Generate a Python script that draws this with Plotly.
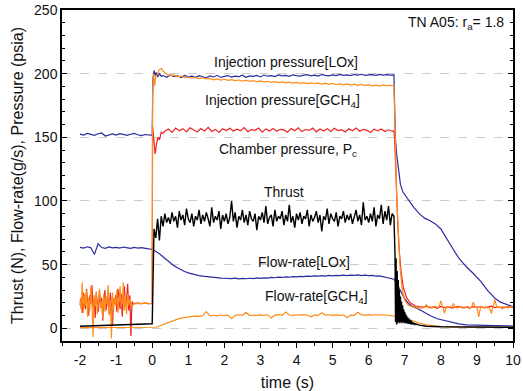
import plotly.graph_objects as go

# ---------------- data ----------------
# LOx injection pressure (psia)
LOX_INJ_PRE = [152.5, 151.8, 153.0, 152.2, 151.5, 152.8, 153.4, 151.0, 152.1, 152.6,
               151.7, 152.9, 152.3, 151.6, 152.4, 153.1, 152.0, 151.4, 152.2, 151.8, 151.5]  # t=-2.0..0.0 step 0.1
LOX_INJ_JUMP_T = [0.02, 0.05, 0.08, 0.11, 0.15, 0.20, 0.25]
LOX_INJ_JUMP_V = [196, 202.5, 198.5, 201, 197.3, 200, 198]
LOX_INJ_RUN = [198.5, 197.2, 199.0, 197.8, 198.3, 196.9, 198.6, 197.5, 198.0, 197.1,
               198.4, 197.6, 196.8, 198.2, 197.4, 198.7, 197.0, 197.9, 198.5, 197.3,
               198.1, 197.6, 198.8, 197.2, 198.3, 197.9, 198.6, 197.4, 198.9, 198.0,
               198.5, 197.7, 199.0, 198.2, 198.7, 197.9, 199.1, 198.4, 198.0, 198.8,
               199.2, 198.3, 198.9, 198.1, 199.3, 198.6, 198.2, 199.0, 198.5, 199.4,
               198.7, 199.1, 198.4, 199.3, 198.8, 199.5, 198.6, 199.0, 199.2, 198.7,
               199.4, 198.9, 199.2, 198.8, 199.1]  # t=0.3..6.7 step 0.1
LOX_INJ_DROP_T = [6.71, 6.72, 6.74, 6.77, 6.82, 6.88, 6.95, 7.05, 7.15, 7.25, 7.4, 7.55, 7.7,
                  7.85, 8.0, 8.15, 8.3, 8.5, 8.7, 8.9, 9.1, 9.3, 9.5, 9.65, 9.8, 10.0]
LOX_INJ_DROP_V = [185, 165, 150, 138, 124, 113, 107, 103, 100, 95, 90, 86.5, 84.5,
                  82, 78, 71.5, 64, 55, 48.5, 43, 37, 29.5, 23.5, 20.5, 18.8, 17]

# GCH4 injection pressure (psia)
GCH4_INJ_PRE = [22, 15, 36, 12, 27, 18, 30, 9, 24, 14, 33, 20, -7, 26, 17, 29, 11, 23, 31, 16,
                21, 8, 27, 13, 25, 19, 34, 10, 22, -8, 28, 15, 24, 18, 30, 12, 26, 33, 17, 21,
                36, 14, 25, 11, 27, 18, 23, 20, 16, 19]  # t=-2.0..-0.53 step 0.03
GCH4_INJ_FLAT = [19.2, 19.6, 19.4, 19.8, 19.3, 19.5]  # t=-0.5..0.0 step 0.1
GCH4_INJ_JUMP_T = [0.01, 0.04, 0.07, 0.10, 0.14, 0.19, 0.25, 0.30, 0.35]
GCH4_INJ_JUMP_V = [184, 200, 190.5, 198, 199, 203, 204, 202, 200.5]
GCH4_INJ_RUN = [199.5, 198.2, 199.0, 197.6, 198.1, 196.8, 197.5, 196.4, 197.0, 196.1,
                196.6, 195.8, 196.3, 195.2, 195.9, 195.0, 195.6, 194.7, 195.3, 194.5,
                195.0, 194.2, 194.8, 193.9, 194.5, 193.7, 194.3, 193.5, 194.0, 193.2,
                193.8, 193.0, 193.6, 192.8, 193.4, 192.6, 193.1, 192.4, 193.0, 192.2,
                192.8, 192.1, 192.6, 191.8, 192.5, 191.6, 192.3, 191.5, 192.0, 191.2,
                191.9, 191.0, 191.7, 190.8, 191.5, 190.6, 191.3, 190.4, 191.0, 190.2,
                191.1, 190.4, 190.9, 190.5]  # t=0.4..6.7 step 0.1
GCH4_INJ_DROP_T = [6.72, 6.74, 6.77, 6.80, 6.83, 6.87, 6.93, 7.0, 7.1, 7.2]
GCH4_INJ_DROP_V = [170, 140, 110, 88, 68, 48, 30, 22, 18, 17]
GCH4_INJ_TAIL = [16.5, 17.2, 16.0, 16.8, 15.6, 17.0, 16.3, 18.5, 16.1, 16.9,
                 15.8, 16.6, 17.3, 16.2, 16.8, 21.5, 16.4, 12.0, 16.7, 16.0,
                 17.1, 16.3, 19.5, 16.5, 15.9, 16.8, 16.2, 17.0, 15.7, 16.6,
                 17.2, 16.1, 16.7, 20.5, 16.3, 16.9, 9.0, 16.4, 17.0, 16.2,
                 16.8, 15.9, 16.5, 11.5, 16.9, 22.5, 16.3, 16.8, 16.0, 17.1,
                 16.4, 16.9, 15.8, 16.6, 17.2, 16.3]  # t=7.25..10.0 step 0.05

# Chamber pressure (psia)
PC_PRE = [18, 24, 12, 28, 20, 15, 31, 22, 10, 26, 19, 34, 16, 23, 8, 27, 21, 13, 29, 18,
          24, 6, 22, 30, 14, 20, 25, 11, 28, 17, 2, 23, 19, 26, 13, 31, 21, 15, 27, 9,
          24, 33, 18, 22, 35, 14, 26, -6, 21, 19]  # t=-2.0..-0.53 step 0.03
PC_FLAT = [19.5, 19.8, 19.3, 19.7, 19.4, 19.6]  # t=-0.5..0.0 step 0.1
PC_JUMP_T = [0.01, 0.04, 0.08, 0.12, 0.16, 0.20, 0.25, 0.30]
PC_JUMP_V = [159, 148, 137, 145, 150, 148, 154, 153]
PC_RUN = [154.8, 156.5, 153.9, 157.2, 155.1, 156.8, 154.3, 157.5, 155.6, 154.2,
          156.9, 155.0, 157.8, 154.6, 156.2, 153.8, 156.7, 155.3, 157.1, 154.9,
          156.4, 155.2, 157.6, 154.4, 156.0, 155.5, 157.3, 154.1, 156.6, 155.0,
          157.0, 154.7, 156.3, 155.8, 153.9, 156.9, 155.2, 157.4, 154.5, 156.1,
          155.4, 157.2, 154.3, 156.5, 155.0, 156.8, 154.6, 157.1, 155.3, 156.0,
          154.2, 156.7, 155.1, 157.3, 154.8, 156.2, 155.5, 153.8, 156.4, 155.0,
          156.6, 154.5, 155.9, 154.8]  # t=0.35..6.65 step 0.1
PC_DROP_T = [6.70, 6.72, 6.75, 6.78, 6.81, 6.85, 6.90, 6.96, 7.05, 7.15, 7.3]
PC_DROP_V = [155, 148, 125, 100, 80, 60, 44, 32, 24, 20, 17.5]
PC_TAIL = [17.0, 16.2, 17.4, 16.0, 16.8, 15.7, 17.1, 16.3, 16.9, 15.9,
           16.6, 17.2, 16.1, 16.7, 15.8, 17.0, 16.4, 16.9, 16.0, 16.6,
           17.3, 16.2, 16.8, 15.9, 16.5, 17.0, 16.4]  # t=7.4..10.0 step 0.1

# Thrust (N)
THR_PRE_T = [-2.0, -1.5, -1.0, -0.5, 0.0]
THR_PRE_V = [1.6, 2.0, 2.5, 3.2, 3.5]
THR_RUN = [78, 71, 86, 69, 88, 80, 90, 83, 87, 82,
           91, 84, 88, 79, 92, 85, 89, 81, 94, 86,
           83, 90, 80, 88, 85, 93, 82, 89, 84, 91,
           86, 80, 95, 83, 88, 85, 92, 78, 89, 84,
           90, 82, 87, 100, 84, 91, 79, 88, 85, 93,
           83, 89, 81, 92, 86, 84, 90, 77, 88, 85,
           91, 83, 96, 82, 87, 89, 80, 93, 84, 88,
           86, 92, 81, 89, 84, 97, 83, 88, 79, 90,
           85, 91, 82, 88, 86, 93, 80, 89, 84, 87,
           92, 83, 89, 76, 88, 85, 94, 82, 90, 86,
           84, 91, 80, 88, 86, 92, 83, 89, 85, 90,
           82, 87, 93, 84, 89, 81, 99, 85, 88, 83,
           90, 84, 95, 80, 89, 86, 97, 82, 92, 85,
           96, 81, 90, 88]  # t=0.05..6.70 step 0.05
THR_DROP = [70, 57, 5, 55, 3, 45, 4, 38, 5, 30, 4, 25, 5, 21, 4, 18, 5, 15, 4, 13,
            4, 11, 4, 9.5, 3.5, 8.5, 3.5, 7.5, 3.5, 6.5, 3, 6, 3, 5, 3, 4.5, 3, 4, 3, 3.5]  # t=6.715..7.30 step 0.015
THR_TAIL_T = [7.4, 7.6, 8.0, 8.5, 10.0]
THR_TAIL_V = [2.5, 1.6, 1.2, 1.0, 0.8]

# Flow-rate LOx (g/s)
FLOX_PRE = [63.5, 63.0, 64.0, 63.2, 58.0, 66.5, 63.4, 62.8, 63.9, 63.1,
            63.6, 62.9, 63.8, 63.3, 62.7, 63.5, 63.0, 63.4, 62.6, 62.4, 62.0]  # t=-2.0..0.0 step 0.1
FLOX_RUN = [60.5, 58.6, 56.2, 53.8, 51.5, 49.2, 47.6, 45.9, 44.6, 43.5,
            42.6, 42.0, 41.3, 40.9, 40.5, 40.1, 39.9, 39.6, 39.4, 39.3,
            39.1, 39.0, 39.4, 38.8, 39.2, 38.9, 39.3, 39.0, 39.5, 39.2,
            39.6, 39.4, 39.9, 39.7, 40.2, 39.9, 40.4, 40.1, 40.6, 40.3,
            40.8, 40.5, 41.0, 40.7, 41.2, 40.9, 41.4, 41.0, 41.5, 41.2,
            41.6, 41.3, 41.7, 41.4, 41.8, 41.5, 41.9, 41.4, 41.7, 41.3,
            41.5, 41.0, 41.2, 40.6, 40.2, 39.4, 38.5]  # t=0.1..6.7 step 0.1
FLOX_DROP_T = [6.8, 6.9, 7.0, 7.1, 7.2, 7.35, 7.5, 7.7, 7.9, 8.1, 8.3, 8.5, 8.7, 9.0, 9.5, 10.0]
FLOX_DROP_V = [34, 28.5, 23, 19.5, 17.5, 15.5, 13, 10, 7.5, 6, 4.5, 3.5, 2.6, 2.2, 2.0, 1.8]

# Flow-rate GCH4 (g/s)
FCH4_PRE_T = [-2.0, -1.0, 0.0]
FCH4_PRE_V = [0.5, 0.5, 0.5]
FCH4_RUN = [0.8, 1.8, 3.0, 4.2, 5.3, 6.3, 7.2, 8.0, 8.6, 9.0,
            9.3, 9.6, 9.4, 9.9, 13.0, 9.8, 10.2, 9.7, 10.4, 10.0,
            10.3, 7.5, 10.1, 10.6, 10.2, 12.5, 10.0, 10.4, 10.1, 10.5,
            10.2, 10.6, 8.0, 10.3, 10.7, 10.1, 12.8, 10.4, 10.2, 10.6,
            10.3, 10.7, 10.2, 9.0, 10.5, 10.1, 12.2, 10.4, 10.6, 10.2,
            10.5, 10.1, 10.6, 8.2, 10.4, 10.2, 12.6, 10.5, 10.3, 10.7,
            10.4, 10.8, 10.3, 10.6, 10.4, 10.1]  # t=0.1..6.6 step 0.1
FCH4_DROP_T = [6.7, 6.8, 6.9, 7.0, 7.1, 7.2, 7.3, 7.45, 7.6, 7.8, 8.0, 8.5, 9.0, 10.0]
FCH4_DROP_V = [9.8, 9.5, 9.0, 8.2, 7.2, 6.0, 4.8, 3.6, 2.7, 1.9, 1.4, 1.0, 0.9, 0.8]

# Axis ticks
X_TICKS = [-2, -1, 0, 1, 2, 3, 4, 5, 6, 7, 8, 9, 10]
X_TICK_TEXT = ["-2", "-1", "0", "1", "2", "3", "4", "5", "6", "7", "8", "9", "10"]

# Annotations
LABELS = ["Injection pressure[LOx]", "Injection pressure[GCH<sub>4</sub>]",
          "Chamber pressure, P<sub>c</sub>", "Thrust", "Flow-rate[LOx]",
          "Flow-rate[GCH<sub>4</sub>]"]
LABEL_X = [3.72, 3.6, 3.75, 3.65, 4.2, 4.55]
LABEL_Y = [209, 178.2, 139.7, 106.7, 51.8, 24.3]


def grid(start, step, n):
    return [round(start + step * i, 4) for i in range(n)]


BLUE = "#2b2ba0"
ORANGE = "#ff8c1a"
RED = "#ee2222"

series = []
# LOx injection
x = grid(-2.0, 0.1, len(LOX_INJ_PRE)) + LOX_INJ_JUMP_T + grid(0.3, 0.1, len(LOX_INJ_RUN)) + LOX_INJ_DROP_T
y = LOX_INJ_PRE + LOX_INJ_JUMP_V + LOX_INJ_RUN + LOX_INJ_DROP_V
series.append((x, y, BLUE, 1.2))
# Flow LOx
x = grid(-2.0, 0.1, len(FLOX_PRE)) + grid(0.1, 0.1, len(FLOX_RUN)) + FLOX_DROP_T
y = FLOX_PRE + FLOX_RUN + FLOX_DROP_V
series.append((x, y, BLUE, 1.2))
# Chamber pressure
x = (grid(-2.0, 0.03, len(PC_PRE)) + grid(-0.5, 0.1, len(PC_FLAT)) + PC_JUMP_T
     + grid(0.35, 0.1, len(PC_RUN)) + PC_DROP_T + grid(7.4, 0.1, len(PC_TAIL)))
y = PC_PRE + PC_FLAT + PC_JUMP_V + PC_RUN + PC_DROP_V + PC_TAIL
series.append((x, y, RED, 1.2))
# GCH4 injection
x = (grid(-2.0, 0.03, len(GCH4_INJ_PRE)) + grid(-0.5, 0.1, len(GCH4_INJ_FLAT)) + GCH4_INJ_JUMP_T
     + grid(0.4, 0.1, len(GCH4_INJ_RUN)) + GCH4_INJ_DROP_T + grid(7.25, 0.05, len(GCH4_INJ_TAIL)))
y = GCH4_INJ_PRE + GCH4_INJ_FLAT + GCH4_INJ_JUMP_V + GCH4_INJ_RUN + GCH4_INJ_DROP_V + GCH4_INJ_TAIL
series.append((x, y, ORANGE, 1.2))
# Flow GCH4
x = FCH4_PRE_T + grid(0.1, 0.1, len(FCH4_RUN)) + FCH4_DROP_T
y = FCH4_PRE_V + FCH4_RUN + FCH4_DROP_V
series.append((x, y, ORANGE, 1.2))
# Thrust
x = THR_PRE_T + grid(0.05, 0.05, len(THR_RUN)) + grid(6.715, 0.015, len(THR_DROP)) + THR_TAIL_T
y = THR_PRE_V + THR_RUN + THR_DROP + THR_TAIL_V
series.append((x, y, "#000000", 1.4))

fig = go.Figure()
for sx, sy, col, w in series:
    fig.add_trace(go.Scatter(x=sx, y=sy, mode="lines", line=dict(color=col, width=w),
                             hoverinfo="skip"))

for txt, lx, ly in zip(LABELS, LABEL_X, LABEL_Y):
    fig.add_annotation(x=lx, y=ly, text=txt, showarrow=False,
                       font=dict(size=14, color="#111"), xanchor="center", yanchor="middle")
fig.add_annotation(x=9.8, y=240, text="TN A05: r<sub>a</sub>= 1.8", showarrow=False,
                   font=dict(size=14, color="#111"), xanchor="right", yanchor="middle")

fig.update_layout(
    width=523, height=391,
    margin=dict(l=62, r=10, t=10, b=50, autoexpand=False),
    plot_bgcolor="white", paper_bgcolor="white",
    showlegend=False,
    font=dict(family="Liberation Sans, Arial, sans-serif", size=14, color="#111"),
)
fig.update_xaxes(
    range=[-2.5, 10], tickmode="array", tickvals=X_TICKS, ticktext=X_TICK_TEXT,
    ticks="outside", ticklen=5, tickwidth=1.2, automargin=False,
    tickcolor="black", showline=True, linecolor="black", linewidth=1.5, mirror=True,
    showgrid=False, zeroline=False,
    minor=dict(dtick=0.5, tick0=0, ticks="outside", ticklen=3, tickcolor="black", showgrid=False),
    title=dict(text="time (s)", font=dict(size=16), standoff=10),
)
fig.update_yaxes(
    range=[-10, 250], tick0=0, dtick=50, ticks="inside", ticklen=5, tickwidth=1.2,
    automargin=False,
    tickcolor="black", showline=True, linecolor="black", linewidth=1.5, mirror="ticks",
    showgrid=True, gridcolor="#cccccc", griddash="dash", gridwidth=1, zeroline=False,
    minor=dict(dtick=10, tick0=0, ticks="inside", ticklen=3, tickcolor="black", showgrid=False),
    title=dict(text="Thrust (N), Flow-rate(g/s), Pressure (psia)", font=dict(size=16), standoff=6),
)

fig.write_html("out.html")
